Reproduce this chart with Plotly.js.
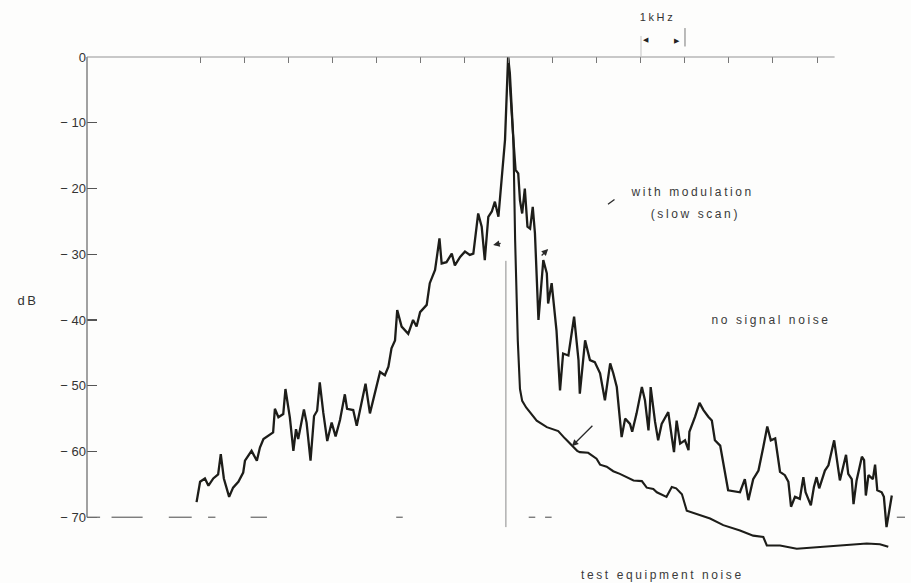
<!DOCTYPE html>
<html>
<head>
<meta charset="utf-8">
<script src="https://cdn.plot.ly/plotly-3.0.1.min.js"></script>
<style>
  html, body { margin: 0; padding: 0; background: #fdfdfc; }
  #chart { width: 911px; height: 583px; }
  #chart .annotation-text { letter-spacing: 2.6px; }
</style>
</head>
<body>
<div id="chart"></div>
<script>
// Frequency offset from carrier (kHz) and level (dB)
const modFreq = [-7.10,-7.02,-6.91,-6.83,-6.72,-6.61,-6.55,-6.48,-6.36,-6.27,-6.15,-6.04,-6.00,-5.85,-5.73,-5.66,-5.58,-5.47,-5.36,-5.32,-5.24,-5.13,-5.08,-4.98,-4.90,-4.84,-4.79,-4.66,-4.60,-4.51,-4.43,-4.36,-4.30,-4.22,-4.13,-4.03,-3.94,-3.84,-3.73,-3.68,-3.54,-3.46,-3.37,-3.26,-3.16,-3.05,-2.93,-2.82,-2.74,-2.67,-2.59,-2.54,-2.44,-2.29,-2.18,-2.10,-2.02,-1.87,-1.80,-1.68,-1.58,-1.53,-1.42,-1.30,-1.23,-1.11,-1.00,-0.89,-0.81,-0.70,-0.62,-0.55,-0.47,-0.39,-0.32,-0.24,-0.17,-0.09,-0.02,0.02,0.10,0.15,0.21,0.25,0.30,0.36,0.42,0.48,0.54,0.59,0.67,0.72,0.78,0.86,0.89,0.97,1.03,1.08,1.16,1.23,1.35,1.48,1.58,1.61,1.73,1.84,1.95,2.07,2.18,2.30,2.37,2.45,2.56,2.64,2.75,2.80,2.90,3.02,3.09,3.17,3.20,3.22,3.32,3.39,3.47,3.62,3.70,3.75,3.81,3.89,4.00,4.08,4.10,4.23,4.33,4.42,4.53,4.61,4.68,4.80,4.98,5.25,5.36,5.44,5.55,5.67,5.78,5.87,5.95,6.05,6.10,6.16,6.27,6.35,6.41,6.50,6.61,6.69,6.74,6.86,6.93,6.99,7.05,7.18,7.26,7.39,7.52,7.60,7.66,7.71,7.79,7.83,7.90,8.02,8.07,8.11,8.17,8.27,8.32,8.37,8.47,8.52,8.58,8.70];
const modLevel = [-67.7,-64.6,-64.1,-65.2,-64.1,-63.5,-60.4,-64.1,-66.9,-65.5,-64.6,-63.2,-61.4,-59.9,-61.4,-59.4,-58.1,-57.6,-57.1,-53.5,-54.8,-54.3,-50.5,-54.8,-59.9,-56.6,-58.1,-53.6,-55.6,-61.4,-54.6,-53.8,-49.5,-54.1,-58.4,-55.6,-57.7,-55.2,-51.3,-53.5,-53.7,-56.1,-53.3,-49.7,-54.2,-51.2,-47.9,-48.4,-47.1,-44.3,-43.1,-38.5,-41.0,-42.1,-40.0,-41.0,-38.8,-37.7,-34.4,-32.4,-27.6,-31.4,-31.2,-29.9,-31.7,-30.4,-29.6,-30.1,-29.9,-23.8,-25.8,-30.9,-24.3,-23.5,-22.0,-24.3,-19.2,-12.6,0,-2.5,-12.6,-17.2,-17.7,-21.8,-23.8,-20.0,-25.8,-26.1,-22.8,-26.8,-40.0,-36.0,-30.9,-32.9,-37.5,-34.4,-38.0,-41.6,-50.7,-45.1,-45.4,-39.5,-46.1,-51.2,-43.1,-46.1,-46.4,-48.1,-52.2,-46.6,-48.1,-50.2,-57.8,-55.0,-55.8,-57.0,-54.2,-50.2,-52.2,-56.8,-53.7,-50.2,-55.5,-58.3,-55.8,-54.0,-57.8,-60.1,-55.3,-58.8,-58.3,-59.8,-57.0,-54.7,-52.6,-53.7,-54.7,-55.3,-58.3,-59.1,-65.9,-66.2,-64.2,-67.4,-64.2,-62.9,-59.3,-56.2,-58.3,-58.0,-60.3,-63.1,-63.6,-64.6,-68.4,-66.9,-67.2,-63.9,-66.2,-68.2,-65.4,-63.9,-65.6,-62.9,-62.1,-58.3,-64.4,-62.1,-60.5,-63.4,-64.2,-68.0,-64.4,-60.8,-61.3,-66.7,-63.6,-64.2,-62.0,-65.9,-66.2,-66.9,-71.5,-66.7];

const testFreq = [-0.02,0.10,0.14,0.20,0.25,0.30,0.39,0.52,0.63,0.86,1.12,1.27,1.42,1.55,1.61,1.80,1.99,2.07,2.22,2.37,2.52,2.67,2.83,3.02,3.13,3.28,3.36,3.58,3.70,3.80,3.93,4.04,4.34,4.57,4.87,5.25,5.55,5.78,5.86,6.16,6.54,6.92,7.30,7.67,8.13,8.43,8.62];
const testLevel = [0,-12.6,-27.9,-43.1,-50.5,-52.3,-53.3,-54.3,-55.3,-56.3,-56.9,-58.0,-59.1,-59.9,-60.1,-60.2,-61.1,-62.0,-62.3,-63.0,-63.4,-63.9,-64.4,-64.5,-65.5,-65.7,-66.2,-66.9,-65.4,-65.6,-66.5,-69.0,-69.7,-70.2,-71.2,-72.0,-72.8,-73.0,-74.3,-74.3,-74.8,-74.6,-74.5,-74.3,-74.0,-74.1,-74.5];

const dbTicks = [0,-10,-20,-30,-40,-50,-60,-70];
const dbTickText = ["0","− 10","− 20","− 30","− 40","− 50","− 60","− 70"];
const khzTicks = [-7,-6,-5,-4,-3,-2,-1,0,1,2,3,4,5,6,7];

const ink = "#1d1d19";
const axisGray = "#707070";
const font = "Liberation Sans, Arial, sans-serif";

const traces = [
  {x: modFreq, y: modLevel, type: "scatter", mode: "lines", name: "with modulation (slow scan)",
   line: {color: ink, width: 2.3}, hoverinfo: "skip"},
  {x: testFreq, y: testLevel, type: "scatter", mode: "lines", name: "test equipment noise",
   line: {color: ink, width: 2.1}, hoverinfo: "skip"}
];

const txt = (s, x, y, size) => ({
  text: s, x: x, y: y, xref: "x", yref: "y", showarrow: false,
  xanchor: "center", yanchor: "middle",
  font: {family: font, size: size, color: "#3a3a3a"}
});

const arrow = (x, y, ax, ay, head) => ({
  text: "", x: x, y: y, xref: "x", yref: "y", ax: ax, ay: ay,
  showarrow: true, arrowhead: head, arrowsize: 1, arrowwidth: 1.3,
  arrowcolor: "#2a2a2a", standoff: 0
});

// faded, broken bottom axis: visible pieces as fractions of plot width
const bottomPieces = [[0, 0.016], [0.03, 0.068], [0.1, 0.128], [0.148, 0.157], [0.2, 0.22], [0.378, 0.386], [0.54, 0.548], [0.56, 0.568], [0.99, 1]];
const bottomShapes = bottomPieces.map(p => ({
  type: "line", xref: "paper", yref: "y", x0: p[0], x1: p[1], y0: -70, y1: -70,
  line: {color: axisGray, width: 1.3}
}));

const layout = {
  width: 911, height: 583,
  margin: {l: 87, r: 6, t: 57, b: 0},
  paper_bgcolor: "#fdfdfc", plot_bgcolor: "#fdfdfc",
  showlegend: false,
  xaxis: {range: [-9.59, 9.0], side: "top", tickvals: khzTicks, ticks: "inside",
          ticklen: 6, tickcolor: "#777", tickwidth: 1, showticklabels: false,
          showgrid: false, zeroline: false, showline: false, fixedrange: true},
  yaxis: {range: [-80, 0], tickvals: dbTicks, ticktext: dbTickText, ticks: "inside",
          ticklen: 10, tickcolor: "#555", tickwidth: 1.2,
          tickfont: {family: font, size: 13, color: "#333"},
          showgrid: false, zeroline: false, showline: false, fixedrange: true},
  shapes: [
    // left axis
    {type: "line", xref: "paper", yref: "y", x0: 0, x1: 0, y0: 0, y1: -70,
     line: {color: axisGray, width: 1.3}},
    // top axis
    {type: "line", xref: "x", yref: "paper", x0: -9.59, x1: 7.4, y0: 1, y1: 1,
     line: {color: "#949494", width: 1.2}},
    // carrier reference line
    {type: "line", xref: "x", yref: "y", x0: -0.07, x1: -0.07, y0: -31, y1: -71.5,
     line: {color: "#8a8a8a", width: 1}},
    // 1 kHz marker extensions
    {type: "line", xref: "x", yref: "paper", x0: 3, x1: 3, y0: 1, y1: 1.04,
     line: {color: "#c4c4c4", width: 1}},
    {type: "line", xref: "x", yref: "paper", x0: 4, x1: 4, y0: 1.02, y1: 1.055,
     line: {color: "#777", width: 1}}
  ].concat(bottomShapes),
  annotations: [
    {text: "dB", xref: "paper", yref: "y", x: -0.072, y: -37, showarrow: false,
     xanchor: "center", yanchor: "middle",
     font: {family: font, size: 13, color: "#333"}},
    {text: "1kHz", xref: "x", yref: "paper", x: 3.37, y: 1.076, showarrow: false,
     xanchor: "center", yanchor: "middle",
     font: {family: font, size: 11, color: "#333"}},
    {text: "◀", xref: "x", yref: "paper", x: 3.14, y: 1.034, showarrow: false,
     xanchor: "center", yanchor: "middle",
     font: {family: font, size: 7, color: "#222"}},
    {text: "▶", xref: "x", yref: "paper", x: 3.84, y: 1.032, showarrow: false,
     xanchor: "center", yanchor: "middle",
     font: {family: font, size: 7, color: "#222"}},
    txt("with modulation", 4.15, -20.5, 12),
    txt("(slow scan)", 4.25, -23.9, 12),
    txt("no signal noise", 5.95, -40.0, 12),
    txt("test equipment noise", 3.5, -78.8, 12),
    arrow(2.25, -22.4, 8, -6, 0),
    arrow(-0.36, -28.6, 9, -2, 2),
    arrow(0.89, -29.2, -8, 8, 2),
    arrow(1.43, -59.2, 22, -22, 2)
  ]
};

Plotly.newPlot("chart", traces, layout, {displayModeBar: false, staticPlot: true});
</script>
</body>
</html>
